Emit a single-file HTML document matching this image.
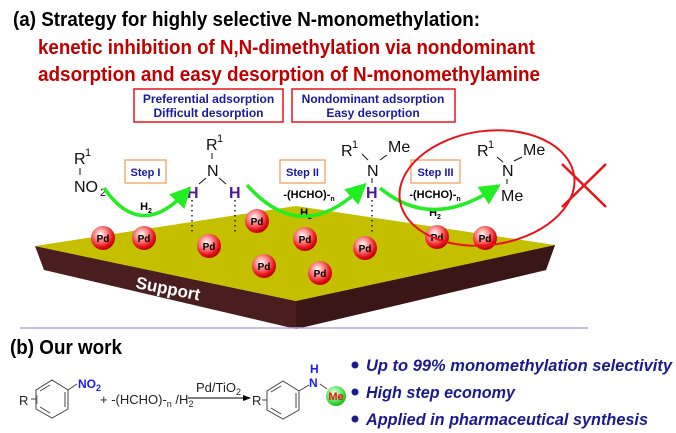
<!DOCTYPE html>
<html><head><meta charset="utf-8"><style>
html,body{margin:0;padding:0;background:#fff;}
svg{display:block;font-family:"Liberation Sans",sans-serif;}
</style></head><body>
<svg width="676" height="433" viewBox="0 0 676 433" xmlns="http://www.w3.org/2000/svg">
<defs>
<radialGradient id="pd" cx="40%" cy="35%" r="65%">
<stop offset="0" stop-color="#fff"/><stop offset="0.35" stop-color="#ff9a9a"/><stop offset="0.8" stop-color="#e8141a"/><stop offset="1" stop-color="#b00"/>
</radialGradient>
<radialGradient id="me" cx="40%" cy="35%" r="65%">
<stop offset="0" stop-color="#eaffea"/><stop offset="0.6" stop-color="#5de85d"/><stop offset="1" stop-color="#1fb81f"/>
</radialGradient>
<marker id="ga" markerWidth="6" markerHeight="6" refX="3" refY="3" orient="auto" markerUnits="strokeWidth"><path d="M0,0 L6,3 L0,6 Z" fill="#22ee22"/></marker>
<marker id="ka" markerWidth="8" markerHeight="6" refX="7" refY="3" orient="auto" markerUnits="userSpaceOnUse"><path d="M0,0 L8,3 L0,6 Z" fill="#000"/></marker>
</defs>

<!-- titles -->
<text x="13" y="26" font-size="20" font-weight="bold" fill="#000" textLength="467" lengthAdjust="spacingAndGlyphs">(a) Strategy for highly selective N-monomethylation:</text>
<text x="38" y="54" font-size="20" font-weight="bold" fill="#c00000" textLength="497" lengthAdjust="spacingAndGlyphs">kenetic inhibition of N,N-dimethylation via nondominant</text>
<text x="38" y="81" font-size="20" font-weight="bold" fill="#c00000" textLength="502" lengthAdjust="spacingAndGlyphs">adsorption and easy desorption of N-monomethylamine</text>

<!-- boxes -->
<rect x="134" y="89" width="149" height="33" fill="#fff" stroke="#e8141a" stroke-width="1.5"/>
<text x="208.5" y="103" font-size="12" font-weight="bold" fill="#1a1a9a" text-anchor="middle">Preferential adsorption</text>
<text x="208.5" y="117" font-size="12" font-weight="bold" fill="#1a1a9a" text-anchor="middle">Difficult desorption</text>
<rect x="292" y="89" width="163" height="33" fill="#fff" stroke="#e8141a" stroke-width="1.5"/>
<text x="373" y="103" font-size="12" font-weight="bold" fill="#1a1a9a" text-anchor="middle">Nondominant adsorption</text>
<text x="373" y="117" font-size="12" font-weight="bold" fill="#1a1a9a" text-anchor="middle">Easy desorption</text>

<!-- support -->
<polygon points="35,246 296,301 555,245 546,270 296,329 44,270" fill="#4a1e1e"/>
<polygon points="296,301 555,245 546,270 296,329" fill="#3a1616"/>
<polygon points="35,246 296,206 555,245 296,301" fill="#c4c000"/>
<text x="0" y="0" font-size="17" font-weight="bold" fill="#fff" transform="translate(135,288) rotate(11)">Support</text>

<!-- Pd balls -->
<g font-size="10" font-weight="bold" text-anchor="middle" fill="#000">
<g transform="translate(103,238)"><circle r="12" fill="url(#pd)"/><text y="4">Pd</text></g>
<g transform="translate(144,238)"><circle r="12" fill="url(#pd)"/><text y="4">Pd</text></g>
<g transform="translate(209,246)"><circle r="12" fill="url(#pd)"/><text y="4">Pd</text></g>
<g transform="translate(257,221)"><circle r="12" fill="url(#pd)"/><text y="4">Pd</text></g>
<g transform="translate(305,239)"><circle r="12" fill="url(#pd)"/><text y="4">Pd</text></g>
<g transform="translate(264,266)"><circle r="12" fill="url(#pd)"/><text y="4">Pd</text></g>
<g transform="translate(320,273)"><circle r="12" fill="url(#pd)"/><text y="4">Pd</text></g>
<g transform="translate(365,248)"><circle r="12" fill="url(#pd)"/><text y="4">Pd</text></g>
<g transform="translate(437,237)"><circle r="12" fill="url(#pd)"/><text y="4">Pd</text></g>
<g transform="translate(485,238)"><circle r="12" fill="url(#pd)"/><text y="4">Pd</text></g>
</g>

<!-- dashed bonds -->
<g stroke="#000" stroke-width="1.3" stroke-dasharray="1.5,3.5">
<line x1="192" y1="200" x2="192" y2="232"/>
<line x1="235" y1="200" x2="235" y2="232"/>
<line x1="372" y1="200" x2="372" y2="232"/>
</g>

<!-- molecules -->
<g font-size="16" fill="#111">
<text x="74" y="164">R</text><text x="85" y="156" font-size="11">1</text>
<line x1="80" y1="168" x2="80" y2="175" stroke="#111"/>
<text x="74" y="192">NO</text><text x="100" y="196" font-size="11">2</text>

<text x="206" y="150">R</text><text x="217" y="142" font-size="11">1</text>
<line x1="212" y1="153" x2="212" y2="159" stroke="#111"/>
<text x="207" y="176">N</text>
<line x1="206" y1="178" x2="199" y2="184" stroke="#111"/>
<line x1="219" y1="178" x2="226" y2="184" stroke="#111"/>
<text x="187" y="198" fill="#4b1a9a" font-weight="bold">H</text>
<text x="229" y="198" fill="#4b1a9a" font-weight="bold">H</text>

<text x="341" y="156">R</text><text x="352" y="148" font-size="11">1</text>
<text x="388" y="152">Me</text>
<line x1="362" y1="154" x2="368" y2="160" stroke="#111"/>
<line x1="380" y1="160" x2="387" y2="155" stroke="#111"/>
<text x="367" y="176">N</text>
<line x1="372" y1="178" x2="372" y2="183" stroke="#111"/>
<text x="366" y="198" fill="#4b1a9a" font-weight="bold">H</text>

<text x="477" y="156">R</text><text x="488" y="148" font-size="11">1</text>
<text x="523" y="155">Me</text>
<line x1="497" y1="157" x2="503" y2="162" stroke="#111"/>
<line x1="514" y1="161" x2="522" y2="157" stroke="#111"/>
<text x="502" y="176">N</text>
<line x1="507" y1="179" x2="507" y2="184" stroke="#111"/>
<text x="501" y="201">Me</text>
</g>

<!-- step boxes -->
<g font-size="11" font-weight="bold" fill="#1a1a9a" text-anchor="middle">
<rect x="125" y="160" width="41" height="23" fill="#fff" stroke="#f0a060" stroke-width="1.3"/>
<text x="145.5" y="176">Step I</text>
<rect x="280" y="160" width="45" height="23" fill="#fff" stroke="#f0a060" stroke-width="1.3"/>
<text x="302.5" y="176">Step II</text>
<rect x="411" y="160" width="49" height="23" fill="#fff" stroke="#f0a060" stroke-width="1.3"/>
<text x="435.5" y="176">Step III</text>
</g>
<g font-size="11" font-weight="bold" fill="#000" text-anchor="middle">
<text x="146" y="210">H<tspan font-size="7" dy="3">2</tspan></text>
<text x="309" y="198">-(HCHO)-<tspan font-size="7" dy="3">n</tspan></text>
<text x="306" y="216">H<tspan font-size="7" dy="3">2</tspan></text>
<text x="435" y="198">-(HCHO)-<tspan font-size="7" dy="3">n</tspan></text>
<text x="435" y="216">H<tspan font-size="7" dy="3">2</tspan></text>
</g>

<!-- green arrows -->
<g fill="none" stroke="#22ee22" stroke-width="3.5" marker-end="url(#ga)">
<path d="M104,188 Q140,240 184,194"/>
<path d="M247,185 Q300,245 359,190"/>
<path d="M380,188 Q430,230 492,190"/>
</g>

<!-- red ellipse & X -->
<ellipse cx="487" cy="188" rx="88" ry="57" fill="none" stroke="#e8141a" stroke-width="2" transform="rotate(-8 487 188)"/>
<g stroke="#e8141a" stroke-width="2.5">
<line x1="562" y1="164" x2="606" y2="207"/>
<line x1="606" y1="164" x2="562" y2="207"/>
</g>

<!-- divider -->
<line x1="20" y1="328" x2="588" y2="328" stroke="#b0a8d8" stroke-width="1.5"/>

<!-- part b -->
<text x="10" y="354" font-size="20" font-weight="bold" fill="#000" textLength="112" lengthAdjust="spacingAndGlyphs">(b) Our work</text>

<g stroke="#444" stroke-width="1" fill="none">
<polygon points="52,380 68,390 68,409 52,418 36,409 36,390"/>
<line x1="65" y1="392" x2="65" y2="407"/><line x1="50" y1="385" x2="40" y2="391"/><line x1="50" y1="413" x2="40" y2="407"/>
<line x1="68" y1="390" x2="77" y2="384"/>
<line x1="31" y1="399" x2="36" y2="399"/>
<line x1="37" y1="395" x2="37" y2="404" stroke="#888"/>
<polygon points="283,381 299,391 299,410 283,419 267,410 267,391"/>
<line x1="296" y1="393" x2="296" y2="408"/><line x1="281" y1="386" x2="271" y2="392"/><line x1="281" y1="414" x2="271" y2="408"/>
<line x1="299" y1="391" x2="309" y2="385"/>
<line x1="320" y1="384" x2="327" y2="389"/>
<line x1="262" y1="400" x2="267" y2="400"/>
</g>
<g font-size="13" fill="#222">
<text x="19" y="405">R</text>
<text x="78" y="388" fill="#1a1aff" font-weight="bold" font-size="12">NO<tspan font-size="9" dy="3">2</tspan></text>
<text x="100" y="404">+ -(HCHO)-<tspan font-size="9" dy="3">n</tspan><tspan dy="-3"> /H</tspan><tspan font-size="9" dy="3">2</tspan></text>
<text x="196" y="392">Pd/TiO<tspan font-size="9" dy="3">2</tspan></text>
<text x="252" y="405">R</text>
<text x="310" y="373" fill="#1a1aff" font-size="12" font-weight="bold">H</text>
<text x="309" y="387" fill="#1a1aff" font-size="12" font-weight="bold">N</text>
</g>
<line x1="188" y1="398" x2="250" y2="398" stroke="#000" stroke-width="1" marker-end="url(#ka)"/>
<circle cx="336" cy="396" r="10" fill="url(#me)"/>
<text x="336" y="400" font-size="11" font-weight="bold" fill="#e8141a" text-anchor="middle">Me</text>

<g fill="#1a1a8c" font-size="17" font-weight="bold" font-style="italic">
<circle cx="355" cy="365" r="3.5"/><text x="366" y="371" textLength="306" lengthAdjust="spacingAndGlyphs">Up to 99% monomethylation selectivity</text>
<circle cx="355" cy="392" r="3.5"/><text x="366" y="398" textLength="149" lengthAdjust="spacingAndGlyphs">High step economy</text>
<circle cx="355" cy="419" r="3.5"/><text x="366" y="425" textLength="282" lengthAdjust="spacingAndGlyphs">Applied in pharmaceutical  synthesis</text>
</g>
</svg>
</body></html>
